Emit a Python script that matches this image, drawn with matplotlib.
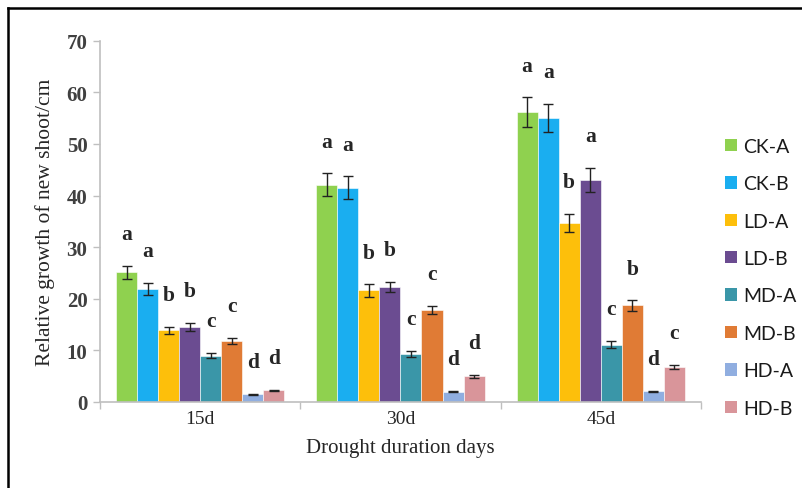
import numpy as np
import matplotlib.pyplot as plt
from matplotlib.patches import Patch
from matplotlib.lines import Line2D

# --- data ---
durations = ['15d', '30d', '45d']
treatments = ['CK-A', 'CK-B', 'LD-A', 'LD-B', 'MD-A', 'MD-B', 'HD-A', 'HD-B']
colors = ['#8fd14f', '#1aaef0', '#fdbf0b', '#6b4c91', '#3a96a8', '#e07b35', '#90aee0', '#d9959a']

growth_15d = [25.1, 21.9, 13.9, 14.5, 9.0, 11.8, 1.5, 2.3]
growth_30d = [42.1, 41.5, 21.6, 22.3, 9.3, 17.8, 2.0, 5.0]
growth_45d = [56.1, 55.0, 34.7, 43.0, 11.1, 18.7, 2.1, 6.8]

err_15d = [1.3, 1.2, 0.7, 0.8, 0.5, 0.6, 0.1, 0.1]
err_30d = [2.2, 2.2, 1.2, 1.0, 0.6, 0.8, 0.1, 0.3]
err_45d = [2.9, 2.7, 1.7, 2.3, 0.7, 1.0, 0.1, 0.4]

letters_15d = ['a', 'a', 'b', 'b', 'c', 'c', 'd', 'd']
letters_30d = ['a', 'a', 'b', 'b', 'c', 'c', 'd', 'd']
letters_45d = ['a', 'a', 'b', 'a', 'c', 'b', 'd', 'c']

values = np.array([growth_15d, growth_30d, growth_45d])
errors = np.array([err_15d, err_30d, err_45d])
letters = [letters_15d, letters_30d, letters_45d]

serif = ['Liberation Serif', 'DejaVu Serif']

fig = plt.figure(figsize=(8.03, 4.89), dpi=100)
ax = fig.add_axes([0.1245, 0.1759, 0.7484, 0.7389])

x = np.arange(len(durations))
bw = 0.105
n = len(treatments)
for i, name in enumerate(treatments):
    xpos = x + (i - (n - 1) / 2) * bw
    ax.bar(xpos, values[:, i], bw, color=colors[i], edgecolor='white', linewidth=0.4, label=name, zorder=2)
    ax.errorbar(xpos, values[:, i], yerr=errors[:, i], fmt='none', ecolor='#222222',
                elinewidth=1.0, capsize=3.5, capthick=1.0, zorder=3)
    for g in range(len(durations)):
        top = values[g, i] + errors[g, i]
        ax.text(xpos[g], top + 4.2, letters[g][i], ha='center', va='bottom',
                fontsize=15.5, fontweight='bold', family=serif, color='#262626')

ax.set_xlim(-0.5, 2.5)
ax.set_ylim(0, 70)
ax.set_yticks(range(0, 71, 10))
ax.set_xticks([-0.5, 0.5, 1.5, 2.5])
ax.set_xticklabels([])
ax.set_xticks(x, minor=True)
ax.set_xticklabels(durations, minor=True, fontsize=14, family=serif, color='#262626')
ax.tick_params(axis='x', which='minor', length=0, pad=6)
ax.tick_params(axis='x', which='major', length=5, color='#bfbfbf', width=1)
ax.tick_params(axis='y', length=5, color='#bfbfbf', width=1, pad=4)
for lab in ax.get_yticklabels():
    lab.set_family(serif)
    lab.set_fontsize(15)
    lab.set_fontweight('bold')
    lab.set_color('#404040')

for s in ['top', 'right']:
    ax.spines[s].set_visible(False)
for s in ['left', 'bottom']:
    ax.spines[s].set_color('#bfbfbf')
    ax.spines[s].set_linewidth(1.2)

ax.set_ylabel('Relative growth of new shoot/cm', fontsize=15.5, family=serif, color='#262626', labelpad=8)
ax.set_xlabel('Drought duration days', fontsize=15, family=serif, color='#262626', labelpad=8)

handles = [Patch(facecolor=c, edgecolor='none') for c in colors]
fig.legend(handles, treatments, loc='upper left', bbox_to_anchor=(0.881, 0.752),
           frameon=False, handlelength=0.6, handleheight=0.6,
           handletextpad=0.35, labelspacing=1.05, labelcolor='#1a1a1a',
           prop={'family': 'Lato', 'size': 14})

# outer frame (left and top edges visible in the reference)
fig.add_artist(Line2D([0.0095, 0.0095], [0, 0.981], transform=fig.transFigure, color='black', lw=1.8))
fig.add_artist(Line2D([0.0095, 1.0], [0.981, 0.981], transform=fig.transFigure, color='black', lw=1.8))

fig.savefig('out.png', dpi=100)
